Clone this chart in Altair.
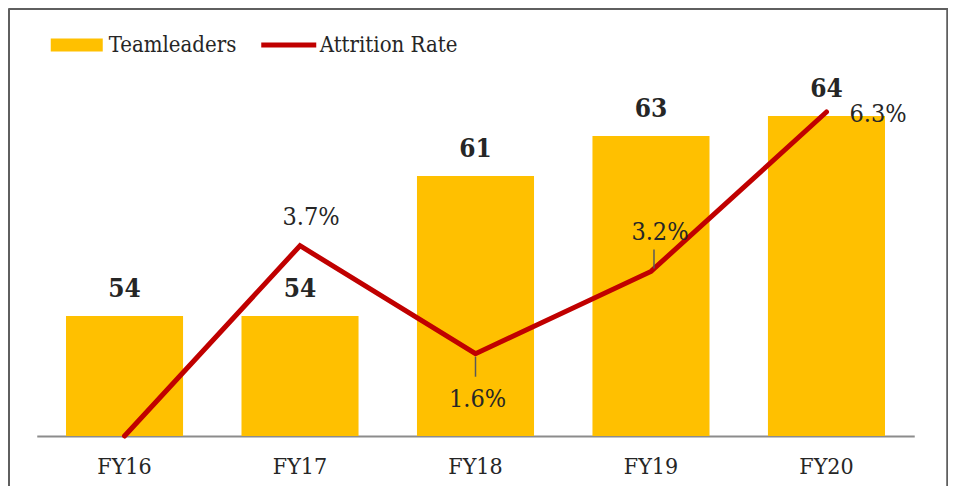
import altair as alt
import pandas as pd

years = ["FY16", "FY17", "FY18", "FY19", "FY20"]
teamleaders = [54, 54, 61, 63, 64]
attrition = [0.0, 3.7, 1.6, 3.2, 6.3]
rate_labels = ["", "3.7%", "1.6%", "3.2%", "6.3%"]

df = pd.DataFrame({
    "year": years,
    "tl": teamleaders,
    "rate": attrition,
    "rate_label": rate_labels,
    "s_bar": "Teamleaders",
    "s_line": "Attrition Rate",
})

FONT = "DejaVu Serif Condensed"
TXT = "#262626"
YELLOW = "#FFC000"
RED = "#C00000"
W, H = 877.5, 360

base = alt.Chart(df)

x = alt.X("year:N", sort=years,
          scale=alt.Scale(paddingInner=0.333, paddingOuter=0.1667),
          axis=alt.Axis(title=None, labelFont=FONT, labelFontSize=23, labelColor=TXT,
                        labelPadding=19, ticks=False, domainColor="#8c8c8c",
                        domainWidth=2, labelAngle=0, grid=False))

ybar = alt.Y("tl:Q", scale=alt.Scale(domain=[48, 66], zero=False, nice=False), axis=None)
yrate = alt.Y("rate:Q", scale=alt.Scale(domain=[0, 7.0], nice=False), axis=None)

bars = base.mark_bar().encode(
    x=x, y=ybar, y2=alt.datum(48),
    color=alt.Color("s_bar:N", scale=alt.Scale(domain=["Teamleaders"], range=[YELLOW]),
                    legend=alt.Legend(title=None, orient="none", legendX=14, legendY=-57,
                                      symbolType="M-1,-0.25H1V0.25H-1Z", symbolSize=2704,
                                      symbolStrokeWidth=0, labelFont=FONT, labelFontSize=22,
                                      labelColor=TXT, labelOffset=6, padding=0)),
)
bar_text = base.mark_text(font=FONT, fontSize=26, fontWeight="bold", color=TXT,
                          baseline="middle", dy=-27).encode(x=x, y=ybar, text="tl:Q")

line = base.mark_line(strokeWidth=5, strokeCap="round", strokeJoin="miter").encode(
    x=x, y=yrate,
    stroke=alt.Stroke("s_line:N", scale=alt.Scale(domain=["Attrition Rate"], range=[RED]),
                      legend=alt.Legend(title=None, orient="none", legendX=222, legendY=-61,
                                        symbolType="stroke", symbolSize=3025,
                                        symbolStrokeWidth=5, labelFont=FONT, labelFontSize=22,
                                        labelColor=TXT, labelOffset=1, padding=0)),
)

lead18 = base.transform_filter(alt.datum.year == "FY18").mark_rule(
    color="#595959", strokeWidth=1.5, yOffset=3, y2Offset=23).encode(x=x, y=yrate, y2="rate:Q")
lead19 = base.transform_filter(alt.datum.year == "FY19").mark_rule(
    color="#595959", strokeWidth=1.5, xOffset=3, yOffset=-3, y2Offset=-22).encode(x=x, y=yrate, y2="rate:Q")


def rate_label(year, dx, dy, align="center"):
    return base.transform_filter(alt.datum.year == year).mark_text(
        font=FONT, fontSize=25, color=TXT, dx=dx, dy=dy, align=align, baseline="middle"
    ).encode(x=x, y=yrate, text="rate_label:N")


labels = [
    rate_label("FY17", 11, -29),
    rate_label("FY18", 2, 45),
    rate_label("FY19", 9, -39),
    rate_label("FY20", 23, 2, "left"),
]

frame = [
    base.mark_rule(color="#5f5f5f", strokeWidth=2).encode(
        x=alt.value(-28), y=alt.value(-67), y2=alt.value(410)),
    base.mark_rule(color="#5f5f5f", strokeWidth=2).encode(
        x=alt.value(911), y=alt.value(-67), y2=alt.value(410)),
    base.mark_rule(color="#5f5f5f", strokeWidth=2).encode(
        x=alt.value(-28), x2=alt.value(911), y=alt.value(-67)),
]

bar_layer = alt.layer(bars, bar_text)
line_layer = alt.layer(line, lead18, lead19, *labels)

chart = alt.layer(bar_layer, line_layer, *frame).resolve_scale(
    y="independent", color="independent"
).properties(
    width=W, height=H,
    padding={"left": 28.75, "top": 68, "right": 34, "bottom": 50},
    autosize=alt.AutoSizeParams(type="none"),
    background="white",
).configure_view(stroke=None)

chart.save("out.html", embed_options={"renderer": "svg", "actions": False})
